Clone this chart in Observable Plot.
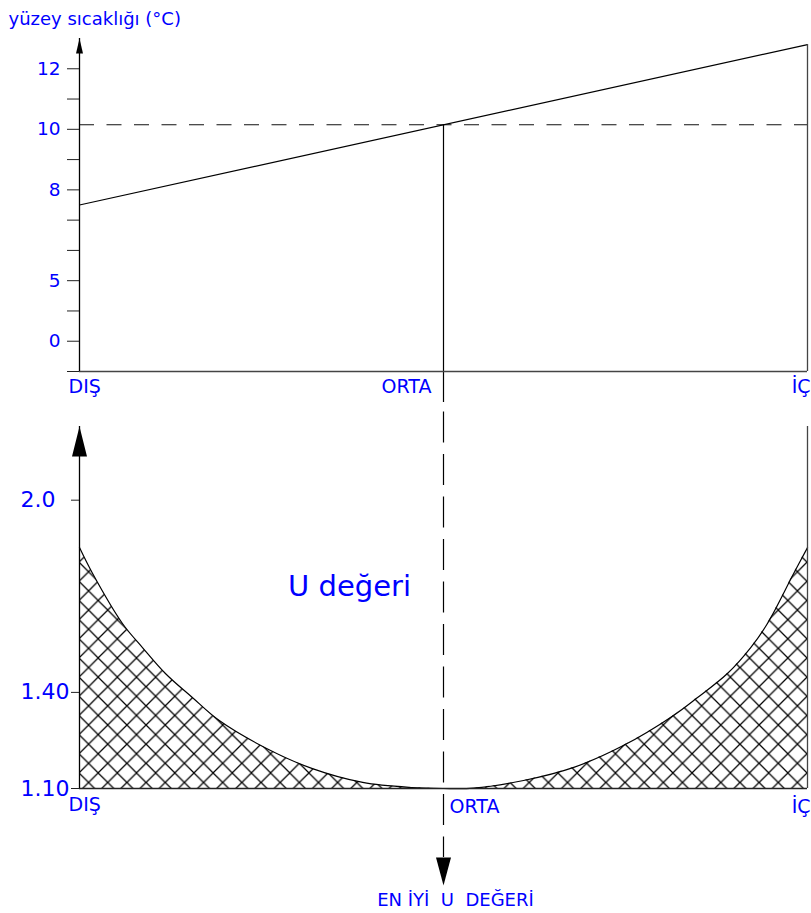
<!DOCTYPE html>
<html>
<head>
<meta charset="utf-8">
<script src="https://cdn.jsdelivr.net/npm/d3@7"></script>
<script src="https://cdn.jsdelivr.net/npm/@observablehq/plot@0.6"></script>
<style>
  html, body { margin: 0; padding: 0; background: #fff; overflow: hidden; }
  #chart svg { display: block; }
</style>
</head>
<body>
<div id="chart"></div>
<script>
// ---------- data ----------
const positionNames = ["DIŞ", "ORTA", "İÇ"];
const positionX = [0, 0.5, 1];

// schematic temperature axis: these break values sit at equal spacing
const tempAxisBreaks = [-2.5, 0, 2.5, 5, 6, 7, 8, 9, 10, 11, 12, 13];
const tempLabelTicks = [0, 5, 8, 10, 12];
const tempMinorTicks = [-2.5, 2.5, 6, 7, 9, 11];
const tempAxisTitle = "yüzey sıcaklığı (°C)";

// surface temperature line
const tempLineX = [0, 1];
const tempLineC = [7.5, 12.8];
const tempAtMiddle = 10.15;

// U value curve
const uTicks = [1.1, 1.4, 2.0];
const uTickLabels = ["1.10", "1.40", "2.0"];
const uAxisTop = 2.23;
const uCurveX = [0, 0.018, 0.059, 0.0865, 0.118, 0.155, 0.192, 0.257, 0.320, 0.389, 0.457, 0.5,
                 0.541, 0.610, 0.679, 0.747, 0.816, 0.849, 0.890, 0.922, 0.945, 0.981, 1];
const uCurveU = [1.852, 1.771, 1.615, 1.540, 1.459, 1.384, 1.312, 1.225, 1.162, 1.119, 1.103, 1.100,
                 1.101, 1.125, 1.166, 1.234, 1.328, 1.384, 1.459, 1.540, 1.615, 1.771, 1.852];
const uCurveTitle = "U değeri";
const uBestLabel = "EN İYİ\u00a0\u00a0U\u00a0\u00a0DEĞERİ";

// ---------- helpers ----------
const BLUE = "#0000ff";
const FONT = "DejaVu Sans";
// map a temperature onto the equally spaced schematic axis
const tempToAxis = d3.scaleLinear().domain(tempAxisBreaks).range(tempAxisBreaks.map((_, i) => i));
const tempData = tempLineX.map((x, i) => ({x, t: tempLineC[i]}));
const uData = uCurveX.map((x, i) => ({x, u: uCurveU[i]}));
const uBase = uTicks[0];
const tempBase = tempAxisBreaks[0];
const tempTop = tempAxisBreaks[tempAxisBreaks.length - 1];

const arrowUp = (w, h) => ({draw(ctx) { ctx.moveTo(0, 0); ctx.lineTo(w / 2, h); ctx.lineTo(-w / 2, h); ctx.closePath(); }});
const arrowDown = (w, h) => ({draw(ctx) { ctx.moveTo(0, 0); ctx.lineTo(w / 2, -h); ctx.lineTo(-w / 2, -h); ctx.closePath(); }});

// ---------- top panel ----------
const topChart = Plot.plot({
  width: 811,
  height: 400,
  marginLeft: 79,
  marginRight: 4,
  marginTop: 38,
  marginBottom: 29,
  style: {fontFamily: FONT, fontSize: "18px", background: "white", overflow: "visible"},
  x: {domain: [0, 1], axis: null},
  y: {domain: [tempToAxis(tempBase), tempToAxis(tempTop)], axis: null},
  marks: [
    Plot.ruleY([tempAtMiddle], {y: tempToAxis, stroke: "#111", strokeWidth: 1.1, strokeDasharray: "15,12.5"}),
    Plot.line(tempData, {x: "x", y: d => tempToAxis(d.t), stroke: "black", strokeWidth: 1.2}),
    Plot.ruleX([0.5], {y1: () => tempToAxis(tempAtMiddle), y2: () => tempToAxis(tempBase), insetBottom: -31, stroke: "black", strokeWidth: 1.2}),
    Plot.ruleY([tempBase], {y: tempToAxis, stroke: "#444", strokeWidth: 1.3}),
    Plot.ruleX([0], {y1: () => tempToAxis(tempBase), y2: () => tempToAxis(tempTop), stroke: "black", strokeWidth: 1.3}),
    Plot.ruleX([1], {y1: () => tempToAxis(tempBase), y2: () => tempToAxis(tempLineC[tempLineC.length - 1]), stroke: "#444", strokeWidth: 1.3}),
    Plot.axisY({
      ticks: [...tempMinorTicks, ...tempLabelTicks].map(tempToAxis),
      tickFormat: v => {
        const t = tempAxisBreaks[Math.round(v)];
        return tempLabelTicks.includes(t) ? String(t) : "";
      },
      tickSize: 12, tickPadding: 7, label: null,
      stroke: "#222", fill: BLUE, fontSize: 18.5
    }),
    Plot.dot([0], {x: d => d, y: () => tempToAxis(tempTop), symbol: arrowUp(7, 15), fill: "black", r: 5}),
    Plot.text([tempAxisTitle], {frameAnchor: "top-left", lineAnchor: "middle", dx: -71, dy: -19, textAnchor: "start", fill: BLUE, fontSize: 18}),
    Plot.text([positionNames[0]], {x: () => positionX[0], frameAnchor: "bottom", lineAnchor: "middle", dy: 15, textAnchor: "start", dx: -11, fill: BLUE, fontSize: 19}),
    Plot.text([positionNames[1]], {x: () => positionX[1], frameAnchor: "bottom", lineAnchor: "middle", dy: 15, textAnchor: "end", dx: -12, fill: BLUE, fontSize: 19}),
    Plot.text([positionNames[2]], {x: () => positionX[2], frameAnchor: "bottom", lineAnchor: "middle", dy: 15, textAnchor: "end", dx: 3, fill: BLUE, fontSize: 19})
  ]
});

// ---------- bottom panel ----------
const bottomChart = Plot.plot({
  width: 811,
  height: 513,
  marginLeft: 79,
  marginRight: 4,
  marginTop: 26,
  marginBottom: 125,
  style: {fontFamily: FONT, fontSize: "18px", background: "white"},
  x: {domain: [0, 1], axis: null},
  y: {domain: [uBase, uAxisTop], axis: null},
  marks: [
    Plot.areaY(uData, {x: "x", y1: () => uBase, y2: "u", fill: "url(#xhatch)", curve: "catmull-rom"}),
    Plot.line(uData, {x: "x", y: "u", stroke: "black", strokeWidth: 1.2, curve: "catmull-rom"}),
    Plot.ruleX([0.5], {stroke: "black", strokeWidth: 1.2, strokeDasharray: "31,11.5", strokeDashoffset: 31, insetTop: -26, insetBottom: -69}),
    Plot.ruleY([uBase], {stroke: "#222", strokeWidth: 1.3}),
    Plot.ruleX([0], {y1: () => uBase, y2: () => uAxisTop, stroke: "black", strokeWidth: 1.3}),
    Plot.ruleX([1], {y1: () => uBase, y2: () => uAxisTop, stroke: "#444", strokeWidth: 1.3}),
    Plot.axisY({
      ticks: uTicks,
      tickFormat: d => uTickLabels[uTicks.indexOf(d)],
      tickSize: 8, tickPadding: 51, textAnchor: "start", label: null,
      stroke: "#222", fill: BLUE, fontSize: 22
    }),
    Plot.dot([0], {x: d => d, y: () => uAxisTop, symbol: arrowUp(15, 30), fill: "black", r: 8}),
    Plot.dot([0.5], {x: d => d, frameAnchor: "bottom", dy: 97, symbol: arrowDown(15, 28), fill: "black", r: 8}),
    Plot.text([uCurveTitle], {x: () => 0.371, y: () => 1.73, fill: BLUE, fontSize: 29}),
    Plot.text([positionNames[0]], {x: () => positionX[0], frameAnchor: "bottom", lineAnchor: "middle", dy: 16, textAnchor: "start", dx: -11, fill: BLUE, fontSize: 19}),
    Plot.text([positionNames[1]], {x: () => positionX[1], frameAnchor: "bottom", lineAnchor: "middle", dy: 18, textAnchor: "start", dx: 6, fill: BLUE, fontSize: 19}),
    Plot.text([positionNames[2]], {x: () => positionX[2], frameAnchor: "bottom", lineAnchor: "middle", dy: 18, textAnchor: "end", dx: 3, fill: BLUE, fontSize: 19}),
    Plot.text([uBestLabel], {x: () => positionX[1], frameAnchor: "bottom", lineAnchor: "middle", dy: 112, dx: 12, textAnchor: "middle", fill: BLUE, fontSize: 18})
  ]
});

// cross-hatch pattern
const s = 728 / 38;
const defs = d3.select(bottomChart).insert("defs", ":first-child");
defs.append("pattern")
  .attr("id", "xhatch")
  .attr("patternUnits", "userSpaceOnUse")
  .attr("x", 79).attr("y", 8.9)
  .attr("width", s).attr("height", s)
  .append("path")
  .attr("d", `M-1,-1L${s + 1},${s + 1}M${s + 1},-1L-1,${s + 1}`)
  .attr("stroke", "#000")
  .attr("stroke-width", 1.25)
  .attr("fill", "none");

document.getElementById("chart").append(topChart, bottomChart);
</script>
</body>
</html>
